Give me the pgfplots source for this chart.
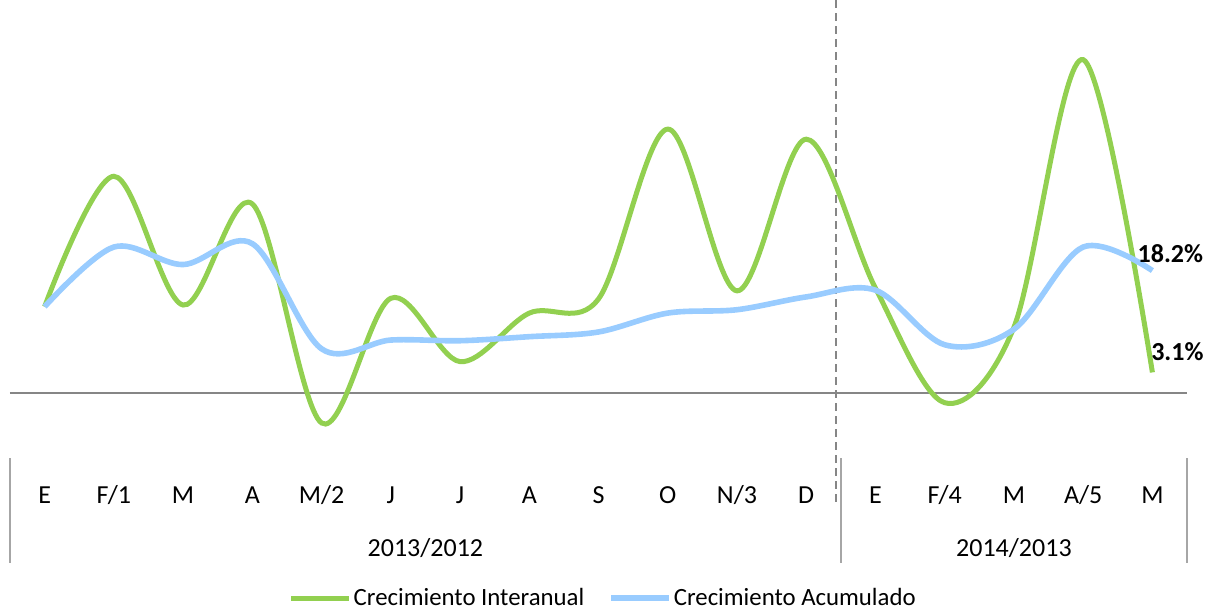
\documentclass[border=0pt]{standalone}
\usepackage{pgfplots}
\pgfplotsset{compat=1.18}
\usepackage{fontspec}
\setmainfont{Carlito}
\definecolor{gI}{HTML}{92D050}
\definecolor{bA}{HTML}{99CCFF}
\definecolor{zl}{HTML}{868686}
\definecolor{sep}{HTML}{A6A6A6}
\begin{document}
\begin{tikzpicture}
\useasboundingbox (0pt,0pt) rectangle (604pt,-306pt);
\begin{axis}[
  at={(5pt,-281.5pt)}, anchor=south west,
  scale only axis, width=588.5pt, height=281.5pt,
  xmin=-0.5, xmax=16.5, ymin=-25.18, ymax=58.35,
  axis line style={draw=none},
  ytick=\empty,
  xtick={0,...,16},
  xticklabels={E,F/1,M,A,M/2,J,J,A,S,O,N/3,D,E,F/4,M,A/5,M},
  major tick length=0pt,
  xticklabel style={anchor=base, yshift=30pt, font=\fontsize{13}{15}\selectfont},
  clip=false,
  legend columns=2,
  legend style={draw=none, fill=none, at={(0.504,0)}, anchor=center, yshift=-17.5pt,
    font=\fontsize{12.4}{14}\selectfont, inner sep=0pt,
    nodes={inner sep=1pt},
    /tikz/every even column/.append style={column sep=11pt}},
  legend image code/.code={\draw[#1] (0pt,0pt) -- (29pt,0pt);},
]
\draw[zl, line width=1pt] (axis cs:-0.5,0) -- (axis cs:16.5,0);
\draw[sep, line width=1pt] (axis cs:-0.5,-9.6) -- (axis cs:-0.5,-25.18);
\draw[sep, line width=1pt] (axis cs:11.5,-9.6) -- (axis cs:11.5,-25.18);
\draw[sep, line width=1pt] (axis cs:16.5,-9.6) -- (axis cs:16.5,-25.18);
\draw[zl, line width=1pt, dash pattern=on 4pt off 2.5pt] (axis cs:11.43,58.35) -- (axis cs:11.43,-16.4);

\addplot[gI, line width=2.5pt, smooth, tension=0.55] coordinates {
(0,12.85) (1,32.2) (2,13.1) (3,28.1) (4,-4.4) (5,14.1) (6,4.7) (7,11.9) (8,14.0)
(9,39.2) (10,15.2) (11,37.7) (12,15.6) (13,-1.4) (14,9.8) (15,49.5) (16,3.1)};
\addlegendentry{Crecimiento Interanual}
\addplot[bA, line width=2.8pt, smooth, tension=0.55] coordinates {
(0,12.85) (1,21.7) (2,19.1) (3,22.2) (4,6.6) (5,7.9) (6,7.8) (7,8.4) (8,9.1)
(9,11.9) (10,12.4) (11,14.3) (12,15.3) (13,7.2) (14,9.5) (15,21.7) (16,18.2)};
\addlegendentry{Crecimiento Acumulado}

\node[font=\fontsize{13}{15}\selectfont\bfseries, xshift=9pt, yshift=8.5pt] at (axis cs:16,18.2) {18.2\%};
\node[font=\fontsize{13}{15}\selectfont\bfseries, xshift=12.5pt, yshift=10.5pt] at (axis cs:16,3.1) {3.1\%};
\node[anchor=base, font=\fontsize{13}{15}\selectfont] at (axis cs:5.5,-24.14) {2013/2012};
\node[anchor=base, font=\fontsize{13}{15}\selectfont] at (axis cs:14,-24.14) {2014/2013};
\end{axis}
\end{tikzpicture}
\end{document}
